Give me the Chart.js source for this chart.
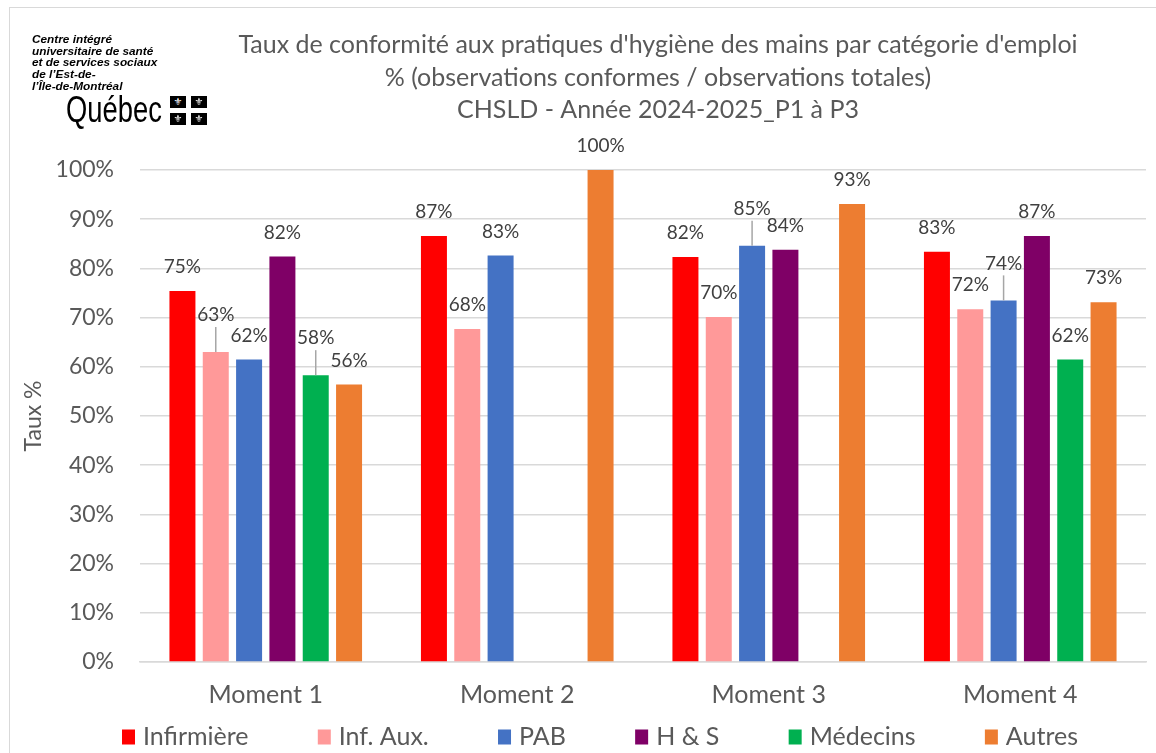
<!DOCTYPE html>
<html lang="fr">
<head>
<meta charset="utf-8">
<title>Taux de conformité - hygiène des mains</title>
<script src="https://cdn.jsdelivr.net/npm/chart.js@4/dist/chart.umd.min.js"></script>
<style>
  body { margin: 0; background: #fff; }
  #cadre { position: relative; width: 1156px; height: 753px; overflow: hidden; }
  #bordure { position: absolute; left: 9px; top: 7px; width: 1200px; height: 800px; border: 1px solid #d9d9d9; }
  #graphique { position: absolute; left: 0; top: 0; }
  #etab { position: absolute; left: 32px; top: 34px; font: italic bold 11.8px "Liberation Sans", Arial, sans-serif; line-height: 11.7px; color: #000; }
  #quebec { position: absolute; left: 66px; top: 89px; font: 36px "Liberation Sans", Arial, sans-serif; color: #000; transform: scaleX(0.76); transform-origin: left top; }
  .fleur { position: absolute; width: 16px; height: 12px; background: #000; color: #fff; font: 10px "DejaVu Sans", sans-serif; line-height: 12px; text-align: center; }
</style>
</head>
<body>
<div id="cadre">
  <div id="bordure"></div>
  <canvas id="graphique" width="1156" height="753"></canvas>
  <div id="etab">Centre intégré<br>universitaire de santé<br>et de services sociaux<br>de l’Est-de-<br>l’Île-de-Montréal</div>
  <div id="quebec">Québec</div>
  <div class="fleur" style="left:170px;top:96px">⚜</div>
  <div class="fleur" style="left:191px;top:96px">⚜</div>
  <div class="fleur" style="left:170px;top:113px">⚜</div>
  <div class="fleur" style="left:191px;top:113px">⚜</div>
</div>

<script>
// --------------------- DONNEES ---------------------
const moments = ["Moment 1", "Moment 2", "Moment 3", "Moment 4"];

// taux par categorie d'emploi (%), null = pas d'observation
const infirmiere = [75.4, 86.6, 82.3, 83.4];
const infAux     = [63.0, 67.7, 70.1, 71.7];
const pab        = [61.5, 82.6, 84.6, 73.5];
const hs         = [82.4, null, 83.8, 86.6];
const medecins   = [58.3, null, null, 61.5];
const autres     = [56.4, 100, 93.1, 73.1];

const graduations = [0, 10, 20, 30, 40, 50, 60, 70, 80, 90, 100];

const titre = [
  "Taux de conformité aux pratiques d'hygiène des mains par catégorie d'emploi",
  "% (observations conformes / observations totales)",
  "CHSLD - Année 2024-2025_P1 à P3"
];

// etiquettes remontees avec un trait de rappel [serie, moment]
const etiquettesDecalees = [[1, 0], [4, 0], [2, 2], [2, 3]];

const POLICE = "Lato, 'Noto Sans', sans-serif";
const GRIS = "#595959";


// --------------------- PLUGIN TITRE ---------------------
const pluginTitre = {
  id: "titre",
  afterDraw(chart) {
    const c = chart.ctx;
    c.save();
    c.font = "25px " + POLICE;
    c.fillStyle = GRIS;
    c.textAlign = "center";
    c.textBaseline = "middle";
    titre.forEach((ligne, i) => c.fillText(ligne, 658, 45 + i * 32.5));
    c.restore();
  }
};


// --------------------- PLUGIN LEGENDE (espacement style Excel) ---------------------
const pluginLegende = {
  id: "legendeExcel",
  afterDraw(chart) {
    const c = chart.ctx;
    c.save();
    c.font = "25px " + POLICE;
    c.textBaseline = "middle";
    c.textAlign = "left";
    const items = chart.data.datasets.map(ds => ({
      texte: ds.label,
      couleur: ds.backgroundColor,
      largeur: 13 + 8 + c.measureText(ds.label).width
    }));
    const total = items.reduce((s, it) => s + it.largeur, 0);
    const largeurLegende = 956;
    const ecart = (largeurLegende - total) / (items.length - 1);
    let x = 600 - largeurLegende / 2;
    const y = 737;
    items.forEach(it => {
      c.fillStyle = it.couleur;
      c.fillRect(x, y - 7.5, 13, 15);
      c.fillStyle = GRIS;
      c.fillText(it.texte, x + 21, y);
      x += it.largeur + ecart;
    });
    c.restore();
  }
};


// --------------------- PLUGIN ETIQUETTES ---------------------
const pluginEtiquettes = {
  id: "etiquettes",
  afterDatasetsDraw(chart) {
    const c = chart.ctx;
    c.save();
    c.font = "19px " + POLICE;
    c.fillStyle = "#404040";
    c.textAlign = "center";
    c.textBaseline = "middle";
    chart.data.datasets.forEach((ds, d) => {
      const meta = chart.getDatasetMeta(d);
      meta.data.forEach((barre, i) => {
        const v = ds.data[i];
        if (v === null) return;
        const decale = etiquettesDecalees.some(e => e[0] === d && e[1] === i);
        const y = barre.y - (decale ? 37 : 24);
        if (decale) {
          c.strokeStyle = "#a6a6a6";
          c.lineWidth = 1.5;
          c.beginPath();
          c.moveTo(barre.x, y + 12);
          c.lineTo(barre.x, barre.y);
          c.stroke();
        }
        c.fillText(Math.round(v) + "%", barre.x, y);
      });
    });
    c.restore();
  }
};


// --------------------- GRAPHIQUE ---------------------
function serie(nom, valeurs, couleur) {
  return {
    label: nom,
    data: valeurs,
    backgroundColor: couleur,
    borderWidth: 0,
    categoryPercentage: 0.795,
    barPercentage: 0.78
  };
}

new Chart(document.getElementById("graphique"), {
  type: "bar",
  data: {
    labels: moments,
    datasets: [
      serie("Infirmière", infirmiere, "#ff0000"),
      serie("Inf. Aux.", infAux, "#ff9999"),
      serie("PAB", pab, "#4472c4"),
      serie("H & S", hs, "#7f0066"),
      serie("Médecins", medecins, "#00b050"),
      serie("Autres", autres, "#ed7d31")
    ]
  },
  options: {
    responsive: false,
    animation: false,
    layout: { padding: { top: 170, left: 20, right: 10, bottom: 0 } },
    plugins: {
      legend: { display: false },
      tooltip: { enabled: false }
    },
    scales: {
      x: {
        grid: { display: false },
        border: { display: true, color: "#d9d9d9", width: 1.5 },
        ticks: { color: GRIS, font: { family: POLICE, size: 25 }, padding: 10 },
        afterFit(scale) { scale.height = 91; }
      },
      y: {
        min: 0,
        max: 100,
        afterBuildTicks(scale) { scale.ticks = graduations.map(v => ({ value: v })); },
        ticks: {
          color: GRIS,
          font: { family: POLICE, size: 23 },
          padding: 26,
          callback: v => v + "%"
        },
        grid: { color: "#d9d9d9", lineWidth: 1.5, drawTicks: false },
        border: { display: false },
        title: {
          display: true,
          text: "Taux %",
          color: GRIS,
          font: { family: POLICE, size: 23 },
          padding: { top: 0, bottom: 0 }
        },
        afterFit(scale) { scale.width = 120; }
      }
    }
  },
  plugins: [pluginTitre, pluginLegende, pluginEtiquettes]
});
</script>
</body>
</html>
